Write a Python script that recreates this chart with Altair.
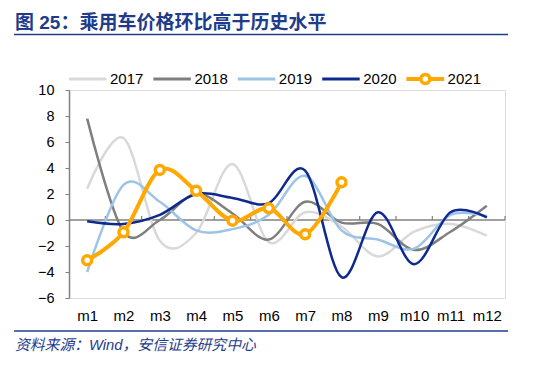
import altair as alt
import pandas as pd

months = list(range(1, 13))
month_labels = ["m1", "m2", "m3", "m4", "m5", "m6", "m7", "m8", "m9", "m10", "m11", "m12"]
years = ["2017", "2018", "2019", "2020", "2021"]
y2017 = [2.4, 6.3, -1.6, -1.0, 4.3, -1.7, 0.6, -0.5, -2.8, -0.9, -0.3, -1.2]
y2018 = [7.8, -0.9, 0.0, 2.0, 0.5, -1.5, 1.4, -0.2, -0.3, -2.3, -0.9, 1.1]
y2019 = [-4.0, 2.7, 1.4, -0.8, -0.7, 0.4, 3.4, -0.8, -1.5, -2.2, 0.4, 0.3]
y2020 = [-0.1, -0.3, 0.4, 2.0, 1.7, 1.3, 3.8, -4.4, 0.6, -3.4, 0.6, 0.2]
y2021 = [-3.1, -0.95, 3.85, 2.25, -0.05, 0.9, -1.1, 2.9]
y_ticks = [-6, -4, -2, 0, 2, 4, 6, 8, 10]

colors = {"2017": "#D9D9D9", "2018": "#7F7F7F", "2019": "#9DC3E6",
          "2020": "#0F2A8E", "2021": "#FFA800"}
series = {"2017": y2017, "2018": y2018, "2019": y2019, "2020": y2020, "2021": y2021}

W, H = 436, 208
BLUE = "#1F3C8C"
FONT = "Liberation Sans, Noto Sans CJK SC"

xscale = alt.Scale(domain=[0.5, 12.5], nice=False, zero=False)
yscale = alt.Scale(domain=[-6, 10], nice=False)

label_js = "[" + ",".join("'" + m + "'" for m in month_labels) + "][datum.value - 1]"

xaxis = alt.Axis(values=months, labelExpr=label_js, domain=False, ticks=False,
                 grid=False, labelFont=FONT, labelFontSize=15, labelColor="#000000",
                 labelPadding=10, labelOverlap=False, labelBound=False, title=None)
yaxis = alt.Axis(values=y_ticks, domainColor="#808080", domainWidth=1.5, tickColor="#808080",
                 tickSize=4, grid=False, labelFont=FONT, labelFontSize=14.5,
                 labelColor="#000000", labelPadding=11, labelOverlap=False,
                 labelBound=False, labelFlush=False, title=None)

layers = []

# zero line and its ticks
layers.append(
    alt.Chart(alt.Data(values=[{}])).mark_rule(color="#808080", strokeWidth=1.5).encode(
        x=alt.X(datum=0.5, scale=xscale, axis=xaxis),
        x2=alt.X2(datum=12.5),
        y=alt.Y(datum=0, scale=yscale, axis=yaxis),
    )
)
bounds = pd.DataFrame({"b": [m + 0.5 for m in months]})
layers.append(
    alt.Chart(bounds).mark_rule(color="#808080", strokeWidth=1.2).encode(
        x=alt.X("b:Q", scale=xscale, axis=xaxis),
        y=alt.Y(datum=0, scale=yscale, axis=yaxis),
        y2=alt.Y2(datum=0.3),
    )
)

for yr in years:
    vals = series[yr]
    df = pd.DataFrame({"month": months[:len(vals)], "value": vals})
    sw = 4 if yr == "2021" else 2.5
    layers.append(
        alt.Chart(df).mark_line(color=colors[yr], strokeWidth=sw, interpolate="cardinal").encode(
            x=alt.X("month:Q", scale=xscale, axis=xaxis),
            y=alt.Y("value:Q", scale=yscale, axis=yaxis),
        )
    )
    if yr == "2021":
        layers.append(
            alt.Chart(df).mark_point(shape="circle", filled=True, fill="#FFFFFF",
                                     stroke=colors[yr], strokeWidth=3.5, size=81, opacity=1).encode(
                x=alt.X("month:Q", scale=xscale, axis=xaxis),
                y=alt.Y("value:Q", scale=yscale, axis=yaxis),
            )
        )

# legend
step = 84.4
leg = pd.DataFrame({
    "year": years,
    "x0": [i * step for i in range(5)],
    "x1": [i * step + 37.5 for i in range(5)],
    "xm": [i * step + 18.75 for i in range(5)],
    "xt": [i * step + 41 for i in range(5)],
})
cscale = alt.Scale(domain=years, range=[colors[y] for y in years])
layers.append(
    alt.Chart(leg).mark_rule(strokeWidth=3).encode(
        x=alt.X("x0:Q", scale=None), x2="x1:Q", y=alt.value(-11),
        color=alt.Color("year:N", scale=cscale, legend=None),
    )
)
layers.append(
    alt.Chart(leg).transform_filter("datum.year == '2021'").mark_rule(strokeWidth=4, color=colors["2021"]).encode(
        x=alt.X("x0:Q", scale=None), x2="x1:Q", y=alt.value(-11),
    )
)
layers.append(
    alt.Chart(leg).transform_filter("datum.year == '2021'").mark_point(
        shape="circle", filled=True, fill="#FFFFFF", stroke=colors["2021"],
        strokeWidth=3.5, size=81, opacity=1).encode(
        x=alt.X("xm:Q", scale=None), y=alt.value(-11),
    )
)
layers.append(
    alt.Chart(leg).mark_text(align="left", baseline="middle", font=FONT, fontSize=15,
                             color="#000000").encode(
        x=alt.X("xt:Q", scale=None), y=alt.value(-11), text="year:N",
    )
)

# title, rules, footer
one = alt.Data(values=[{}])
layers.append(
    alt.Chart(one).mark_text(align="left", baseline="middle", font=FONT, fontSize=19,
                             fontWeight="bold", color=BLUE,
                             text="图 25：乘用车价格环比高于历史水平").encode(
        x=alt.value(-54), y=alt.value(-67))
)
layers.append(
    alt.Chart(one).mark_rule(color=BLUE, strokeWidth=1.5).encode(
        x=alt.value(-55), x2=alt.value(439), y=alt.value(-55.5))
)
layers.append(
    alt.Chart(one).mark_rule(color=BLUE, strokeWidth=1.5).encode(
        x=alt.value(-55), x2=alt.value(439), y=alt.value(241))
)
layers.append(
    alt.Chart(one).mark_text(align="left", baseline="middle", font=FONT, fontSize=14.8,
                             fontStyle="italic", color=BLUE,
                             text="资料来源：Wind，安信证券研究中心").encode(
        x=alt.value(-54), y=alt.value(256))
)

chart = alt.layer(*layers).properties(
    width=W, height=H,
    padding={"left": 61, "top": 82, "right": 30, "bottom": 60},
    autosize=alt.AutoSizeParams(type="none"),
).configure_view(stroke=None).configure(background="#FFFFFF").configure_axis(
    labelOverlap=False, labelBound=False
)

chart.save("out.html", embed_options={"renderer": "svg", "actions": False})
